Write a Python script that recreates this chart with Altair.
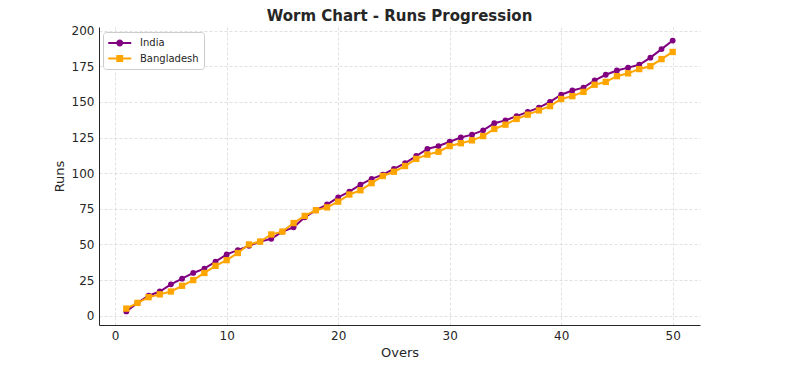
import altair as alt
import pandas as pd

overs = list(range(1, 51))
india = [3, 9, 14, 17, 22, 26, 30, 33, 38, 43, 46, 49, 52, 54, 59, 62, 69, 74, 78, 83,
         87, 92, 96, 99, 103, 107, 112, 117, 119, 122, 125, 127, 130, 135, 137, 140, 143, 146, 150, 155,
         158, 160, 165, 169, 172, 174, 176, 181, 187, 193]
bangladesh = [5, 9, 13, 15, 17, 21, 25, 30, 35, 39, 44, 50, 52, 57, 59, 65, 70, 74, 76, 80,
              85, 88, 93, 98, 101, 105, 110, 113, 115, 119, 121, 123, 126, 131, 134, 138, 141, 144, 147, 152,
              154, 157, 162, 164, 168, 170, 173, 175, 180, 185]
teams = ["India", "Bangladesh"]
team_colors = ["purple", "orange"]
x_ticks = [0, 10, 20, 30, 40, 50]
y_ticks = [0, 25, 50, 75, 100, 125, 150, 175, 200]

df = pd.DataFrame({
    "Overs": overs * 2,
    "Runs": india + bangladesh,
    "Team": ["India"] * len(india) + ["Bangladesh"] * len(bangladesh),
})

TXT = "#262626"
FONT = "DejaVu Sans"

x_enc = alt.X("Overs:Q", scale=alt.Scale(domain=[-1.45, 52.45], nice=False, zero=False),
              axis=alt.Axis(values=x_ticks, title="Overs", format="d"))
y_enc = alt.Y("Runs:Q", scale=alt.Scale(domain=[-6.5, 202.5], nice=False, zero=False),
              axis=alt.Axis(values=y_ticks, title="Runs", format="d"))

base = alt.Chart(df).encode(x=x_enc, y=y_enc)

layers = []
shapes = {"India": "circle", "Bangladesh": "square"}
sizes = {"India": 34, "Bangladesh": 40}
for team, col in zip(teams, team_colors):
    sub = base.transform_filter(alt.datum.Team == team)
    layers.append(sub.mark_line(color=col, strokeWidth=2))
    layers.append(sub.mark_point(color=col, filled=True, opacity=1, shape=shapes[team],
                                 size=sizes[team]))

legend_paths = [
    "M-1,-0.17H3V0.17H-1Z M0.4,0A0.6,0.6 0 1,1 1.6,0A0.6,0.6 0 1,1 0.4,0Z",
    "M-1,-0.17H3V0.17H-1Z M0.4,-0.6H1.6V0.6H0.4Z",
]
leg = alt.Legend(title=None, orient="none", legendX=4, legendY=5,
                 padding=5, rowPadding=4.5, labelOffset=20,
                 symbolSize=132, symbolStrokeWidth=0, symbolOpacity=1,
                 labelFont=FONT, labelFontSize=10, labelColor=TXT,
                 strokeColor="#cccccc", fillColor="white", cornerRadius=3)
legend_layer = base.transform_filter("datum.Overs < 0").mark_point(filled=True, opacity=1).encode(
    color=alt.Color("Team:N", scale=alt.Scale(domain=teams, range=team_colors), legend=leg),
    shape=alt.Shape("Team:N", scale=alt.Scale(domain=teams, range=legend_paths), legend=leg),
)

chart = alt.layer(legend_layer, *layers).properties(
    width=601, height=298,
    title=alt.Title("Worm Chart - Runs Progression", font=FONT, fontSize=15, fontWeight="bold",
                    color=TXT, offset=1),
    autosize=alt.AutoSizeParams(type="none"),
    padding={"left": 91, "top": 19, "right": 60, "bottom": 40},
).configure_view(stroke=None).configure_axis(
    labelFont=FONT, labelFontSize=12, labelColor=TXT,
    titleFont=FONT, titleFontSize=13, titleColor=TXT, titleFontWeight="normal",
    domainColor=TXT, domainWidth=1, ticks=False, labelPadding=5,
    gridColor="#d0d0d0", gridDash=[3, 2], gridWidth=0.8, gridOpacity=0.8,
).configure_axisX(titlePadding=5).configure_axisY(titlePadding=5)

chart.save("out.html", embed_options={"renderer": "svg", "actions": False})
